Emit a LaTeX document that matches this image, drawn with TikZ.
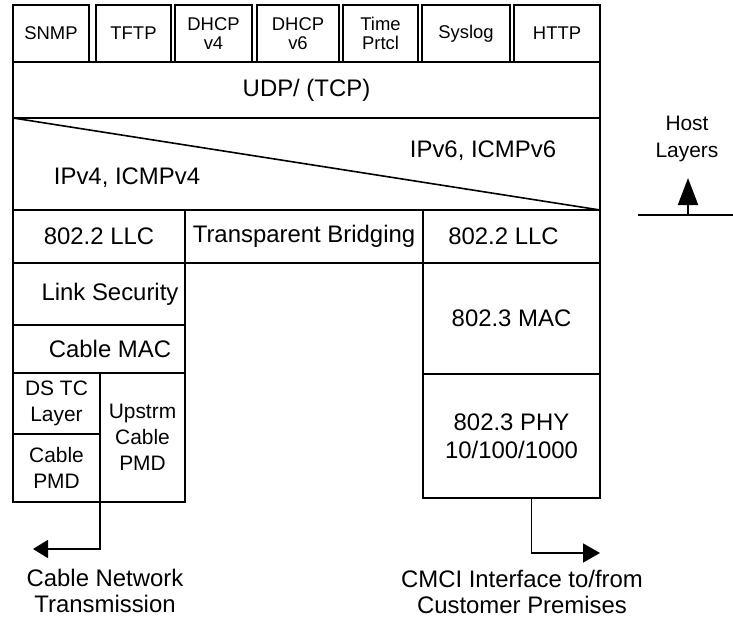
\documentclass[tikz,border=0pt]{standalone}
\usepackage{fontspec}
\setmainfont{Liberation Sans}
\usetikzlibrary{arrows.meta, positioning}
\tikzstyle{layer} = [rectangle, draw=black, line width=1.6bp, inner sep=0pt, outer sep=0pt, align=center, font=\fontsize{24}{28}\selectfont]
\tikzstyle{proto} = [layer, minimum height=57bp, font=\fontsize{18.5}{19}\selectfont]
\tikzstyle{small} = [layer, font=\fontsize{21}{26}\selectfont]
\tikzstyle{caption} = [align=center, inner sep=0pt, font=\fontsize{24}{26}\selectfont]

\begin{document}
\begin{tikzpicture}[x=1bp, y=-1bp, node distance=4bp]
\useasboundingbox (0,0) rectangle (733,621);
% application protocols
\node (snmp) [proto, minimum width=76bp, anchor=north west] at (13,5) {SNMP};
\node (tftp) [proto, minimum width=75bp, right=7bp of snmp] {TFTP};
\node (dhcp4) [proto, minimum width=77bp, right=of tftp] {DHCP\\v4};
\node (dhcp6) [proto, minimum width=82bp, right=5bp of dhcp4] {DHCP\\v6};
\node (time) [proto, minimum width=75bp, right=of dhcp6] {Time\\Prtcl};
\node (syslog) [proto, minimum width=88bp, right=of time] {Syslog};
\node (http) [proto, minimum width=86bp, right=of syslog] {HTTP};
% transport and network
\node (udp) [layer, minimum width=587bp, minimum height=56bp, anchor=north west] at (13,62) {UDP/ (TCP)};
\node (ip) [layer, minimum width=587bp, minimum height=92bp, anchor=north west] at (udp.south west) {};
\draw [line width=1.6bp] (ip.north west) -- (ip.south east);
\node (ipv4) [caption, anchor=base] at (127,185) {IPv4, ICMPv4};
\node (ipv6) [caption, anchor=base] at (483,158) {IPv6, ICMPv6};
% link layer
\node (llcl) [layer, minimum width=172bp, minimum height=53bp, anchor=north west] at (ip.south west) {802.2 LLC};
\node (bridge) [layer, minimum width=238bp, minimum height=53bp, anchor=north west] at (llcl.north east) {Transparent Bridging};
\node (llcr) [layer, minimum width=177bp, minimum height=53bp, anchor=north west] at (bridge.north east) {802.2 LLC\hspace*{16bp}};
% cable side
\node (linksec) [layer, minimum width=172bp, minimum height=62bp, anchor=north west] at (llcl.south west) {\hspace*{22bp}Link Security};
\node (cmac) [layer, minimum width=172bp, minimum height=48bp, anchor=north west] at (linksec.south west) {\hspace*{22bp}Cable MAC};
\node (dstc) [small, minimum width=87bp, minimum height=61bp, anchor=north west] at (cmac.south west) {DS TC\\Layer};
\node (cpmd) [small, minimum width=87bp, minimum height=68bp, anchor=north west] at (dstc.south west) {Cable\\PMD};
\node (upstrm) [small, minimum width=85bp, minimum height=129bp, anchor=north west] at (dstc.north east) {Upstrm\\Cable\\PMD};
% ethernet side
\node (emac) [layer, minimum width=177bp, minimum height=111bp, anchor=north west] at (llcr.south west) {802.3 MAC};
\node (ephy) [layer, minimum width=177bp, minimum height=124bp, anchor=north west] at (emac.south west) {802.3 PHY\\10/100/1000};
% outputs
\coordinate (cableend) at (33,549);
\coordinate (cmciend) at (600,553);
\draw [line width=1.6bp, -{Triangle[length=15bp, width=18bp]}] (upstrm.south west) |- (cableend);
\draw [line width=1.6bp, -{Triangle[length=17bp, width=19bp]}] ([xshift=20bp]ephy.south) |- (cmciend);
\node (cablenet) [caption, anchor=north] at (105,569) {Cable Network\\Transmission};
\node (cmci) [caption, anchor=north] at (522,570) {CMCI Interface to/from\\Customer Premises};
% host layers
\node (host) [caption, font=\fontsize{21}{27}\selectfont, anchor=north] at (687,116) {Host\\Layers};
\coordinate (hostl) at (638,215);
\coordinate (hostr) at (733,215);
\coordinate (hostbase) at (688,215);
\coordinate (hosttip) at (688,178);
\draw [line width=2.6bp] (hostl) -- (hostr);
\draw [line width=2bp, -{Triangle[length=27bp, width=20bp]}] (hostbase) -- (hosttip);
\end{tikzpicture}
\end{document}
